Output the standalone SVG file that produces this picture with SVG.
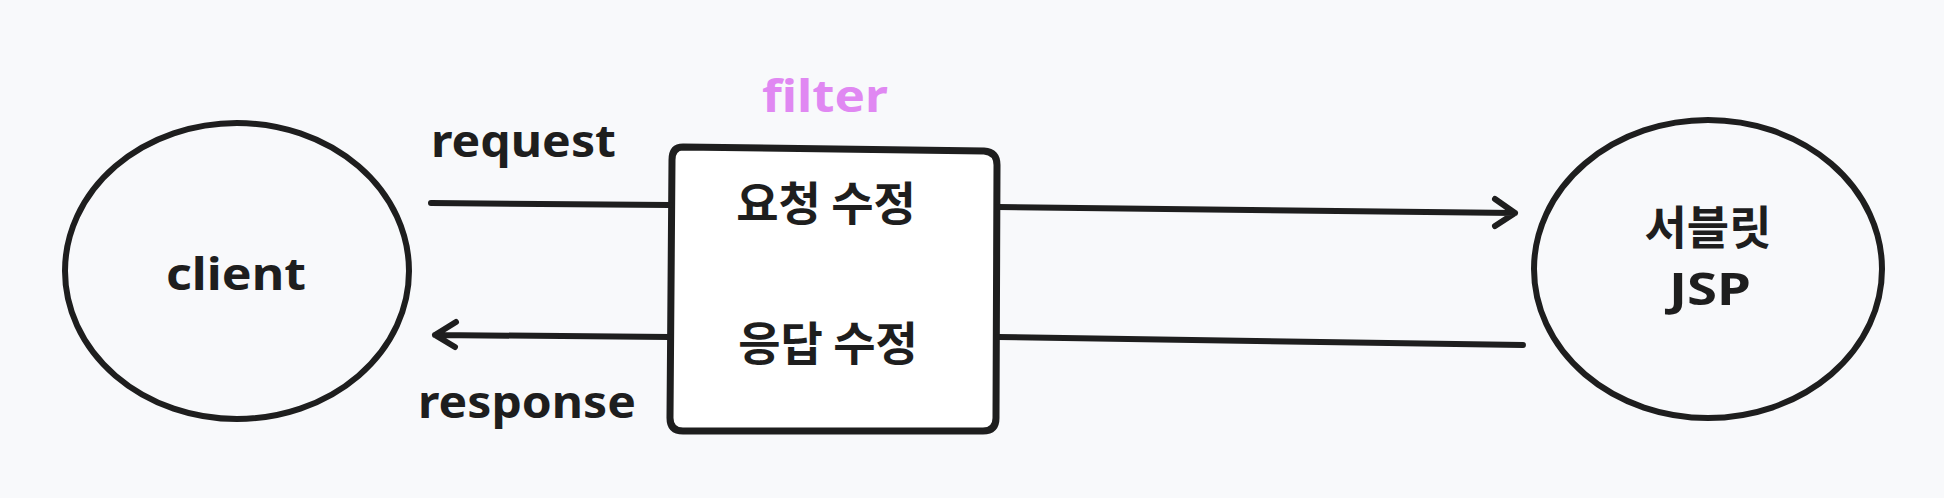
<svg xmlns="http://www.w3.org/2000/svg" width="1944" height="498" viewBox="0 0 1944 498">
<style>
.bg{fill:#f8f9fb}
.shape{fill:none;stroke:#1e1e1e;stroke-width:6;stroke-linecap:round;stroke-linejoin:round}
.box{fill:#ffffff;stroke:#1e1e1e;stroke-width:7}
.conn{fill:none;stroke:#1e1e1e;stroke-width:6;stroke-linecap:round;stroke-linejoin:round}
.hand{font-family:"Noto Sans","Liberation Sans",sans-serif;font-weight:700;font-size:44px;fill:#1e1e1e}
.kr{font-family:"Noto Sans CJK KR","Noto Sans",sans-serif;font-weight:700;font-size:46px;fill:#1e1e1e;text-anchor:middle}
</style>
<rect class="bg" x="0" y="0" width="1944" height="498"/>
<g id="client">
<ellipse class="shape" cx="237" cy="271" rx="172" ry="148"/>
<text class="hand" x="166" y="290" textLength="140" lengthAdjust="spacingAndGlyphs">client</text>
</g>
<g id="filter">
<text class="hand" x="762" y="112" textLength="126" lengthAdjust="spacingAndGlyphs" style="fill:#e088f2">filter</text>
<path class="box" d="M683,147 L984,151 Q997,152 997,165 L996,418 Q996,431 983,431 L683,431 Q670,431 670,418 L672,160 Q672,147 683,147 Z"/>
<text class="kr" x="826" y="220">요청 수정</text>
<text class="kr" x="828" y="360">응답 수정</text>
</g>
<g id="servlet">
<ellipse class="shape" cx="1708" cy="269" rx="174" ry="149"/>
<text class="kr" x="1708" y="244">서블릿</text>
<text class="hand" x="1669" y="305" textLength="82" lengthAdjust="spacingAndGlyphs">JSP</text>
</g>
<g id="connectors">
<path class="conn" d="M431,203 L670,205"/>
<text class="hand" x="431" y="157" textLength="185" lengthAdjust="spacingAndGlyphs">request</text>
<path class="conn" d="M998,207 L1515,213 M1495,199 L1515,213 L1495,226"/>
<path class="conn" d="M998,337 L1523,345"/>
<path class="conn" d="M670,337 L435,335 M456,322 L435,335 L455,347"/>
<text class="hand" x="418" y="418" textLength="218" lengthAdjust="spacingAndGlyphs">response</text>
</g>
</svg>
